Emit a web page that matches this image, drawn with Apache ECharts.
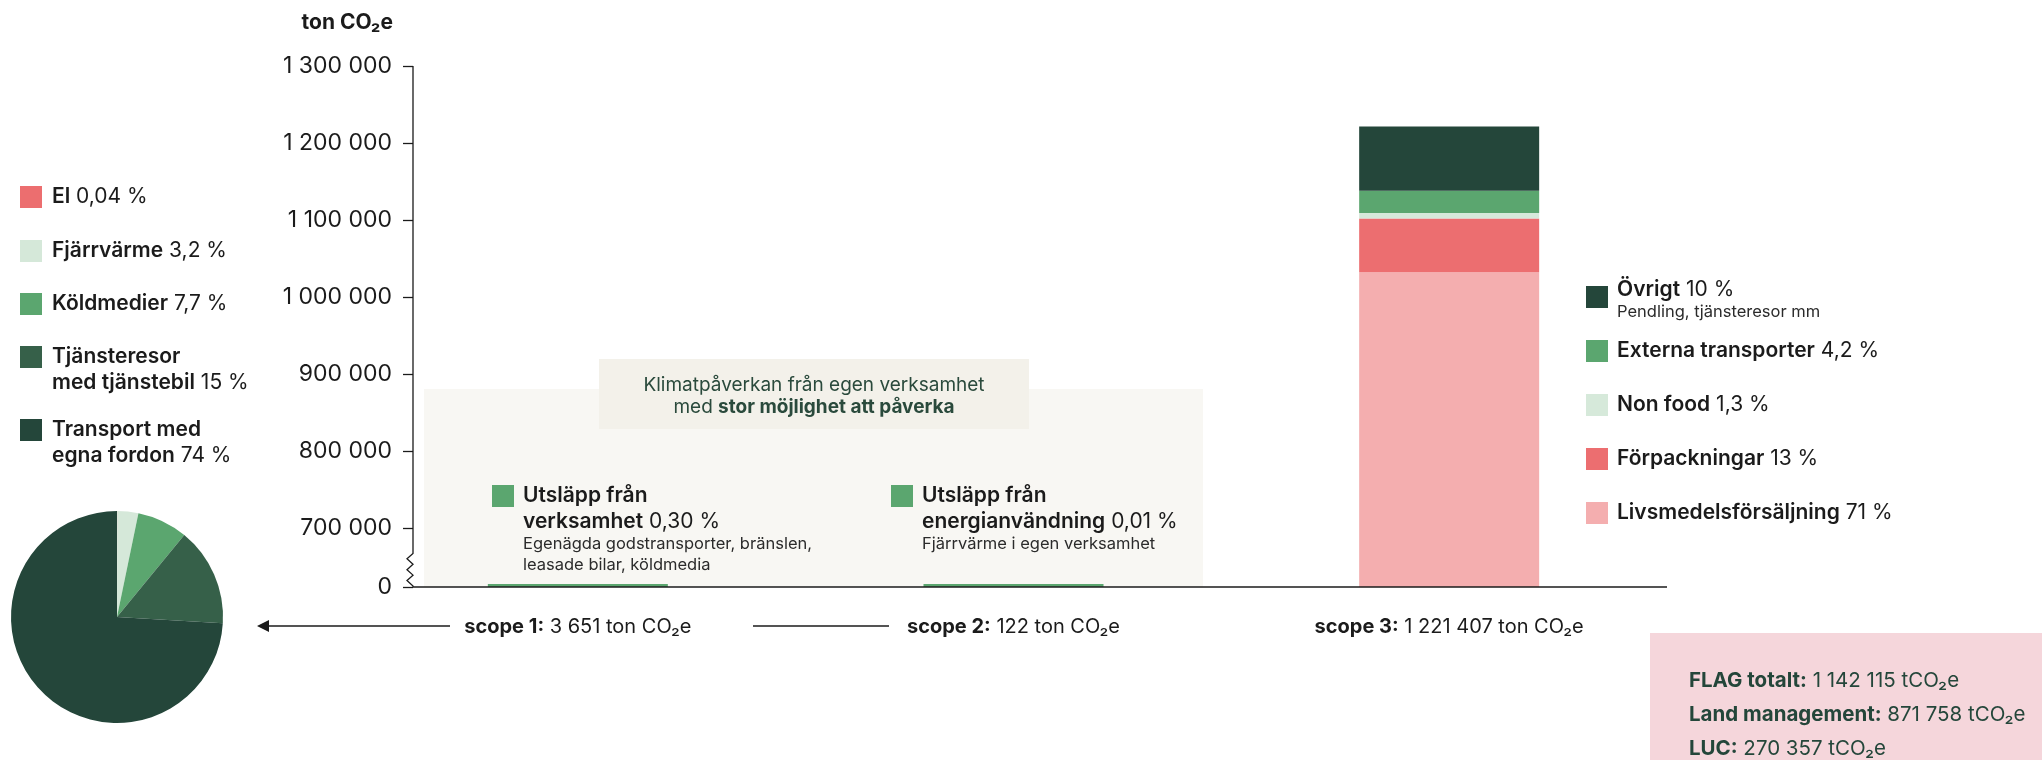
<!DOCTYPE html>
<html>
<head>
<meta charset="utf-8">
<script src="https://cdn.jsdelivr.net/npm/echarts@6/dist/echarts.min.js"></script>
<style>
  html, body { margin: 0; padding: 0; background: #ffffff; }
  #chart { width: 2042px; height: 760px; }
</style>
</head>
<body>
<div id="chart"></div>
<script>
// Categories on the x axis
const scopes = ['scope 1', 'scope 2', 'scope 3'];
// Own operations, ton CO2e (scope 1, scope 2)
const ownEmissions = [3651, 122];
// Scope 3 breakdown, stacked from the bottom up, ton CO2e
const scope3Names = ['Livsmedelsförsäljning', 'Förpackningar', 'Non food', 'Externa transporter', 'Övrigt'];
const scope3Shares = ['71 %', '13 %', '1,3 %', '4,2 %', '10 %'];
const scope3Values = [1032000, 70000, 7000, 29000, 83407];
const scope3Notes = ['', '', '', '', 'Pendling, tjänsteresor mm'];
// Scope 1 breakdown, percent
const scope1Names = ['El', 'Fjärrvärme', 'Köldmedier', 'Tjänsteresor\nmed tjänstebil', 'Transport med\negna fordon'];
const scope1Shares = [0.04, 3.2, 7.7, 15, 74];
// Ticks shown on the value axis
const yTickValues = [0, 700000, 800000, 900000, 1000000, 1100000, 1200000, 1300000];
// Collapsed part of the value axis
const axisBreak = { start: 5000, end: 667000, gap: 38600 };
// FLAG summary
const flagLabels = ['FLAG totalt:', 'Land management:', 'LUC:'];
const flagValues = [1142115, 871758, 270357];
// Own-operation notes
const ownTitles = [['Utsläpp från', 'verksamhet'], ['Utsläpp från', 'energianvändning']];
const ownNotes = [['Egenägda godstransporter, bränslen,', 'leasade bilar, köldmedia'], ['Fjärrvärme i egen verksamhet']];

// ---- styling ----
const FONT = 'Inter, "Noto Sans", "DejaVu Sans", sans-serif';
const INK = '#1b1b1b';
const TEXT_GREEN = '#2a4a3c';
const FLAG_INK = '#24463a';
const OWN_GREEN = '#5ba66f';
const scope3Colors = ['#f4aeaf', '#ec6e70', '#d6e9da', '#5ba66f', '#24463a'];
const scope1Colors = ['#ec6e6f', '#d5e8d9', '#5ba66f', '#366049', '#24463a'];
// plot area; the value axis sits a little inside its left edge
const GRID = { left: 360, right: 375, top: 66, bottom: 173 };
const AXIS_X = 413;
const BASE_END = 1667;
const BAR_W = 180;

const fmt = n => String(n).replace(/\B(?=(\d{3})+(?!\d))/g, ' ');
const pct = v => String(v).replace('.', ',') + ' %';
const scope3Total = scope3Values.reduce((a, b) => a + b, 0);
const totals = [ownEmissions[0], ownEmissions[1], scope3Total];
const grandTotal = totals.reduce((a, b) => a + b, 0);
const ownShares = ownEmissions.map(v => (v / grandTotal * 100).toFixed(2).replace('.', ',') + ' %');

// rich text with a bold lead and a regular tail
const richPair = (size, color, weight, lh) => ({
  fontSize: size, fontFamily: FONT, fill: color, lineHeight: lh,
  rich: {
    n: { fontSize: size, fontWeight: weight, fontFamily: FONT, fill: color, lineHeight: lh },
    v: { fontSize: size, fontFamily: FONT, fill: color, lineHeight: lh }
  }
});

const chart = echarts.init(document.getElementById('chart'));

const series = [{
  type: 'bar', name: 'Egen verksamhet', stack: 'total', barWidth: BAR_W, barMinHeight: 3,
  data: [ownEmissions[0], ownEmissions[1], '-'],
  itemStyle: { color: OWN_GREEN }, z: 3
}];
scope3Names.forEach((n, i) => series.push({
  type: 'bar', name: n, stack: 'total', barWidth: BAR_W,
  data: ['-', '-', scope3Values[i]],
  itemStyle: { color: scope3Colors[i] }, z: 3
}));
series.push({
  type: 'pie', name: 'scope 1', center: [117, 617], radius: 106, startAngle: 90, clockwise: true,
  label: { show: false }, labelLine: { show: false }, emphasis: { disabled: true },
  itemStyle: { borderWidth: 0 },
  data: scope1Names.map((n, i) => ({ name: n, value: scope1Shares[i], itemStyle: { color: scope1Colors[i] } }))
});

chart.setOption({
  animation: false,
  textStyle: { fontFamily: FONT },
  grid: GRID,
  xAxis: {
    type: 'category', data: scopes,
    axisLine: { show: false },
    axisTick: { show: false },
    axisLabel: {
      margin: 30, fontSize: 20, color: INK, fontFamily: FONT,
      formatter: (val, idx) => `{b|${val}:} ${fmt(totals[idx])} ton CO₂e`,
      rich: { b: { fontWeight: 700, fontSize: 20, color: INK, fontFamily: FONT } }
    }
  },
  yAxis: {
    type: 'value', min: 0, max: 1300000, interval: 100000,
    offset: GRID.left - AXIS_X,
    breaks: [axisBreak],
    breakArea: { show: false },
    splitLine: { show: false },
    axisLine: { show: false },
    axisTick: { show: true, length: 10, customValues: yTickValues, lineStyle: { color: INK, width: 1.3 } },
    axisLabel: {
      margin: 21, fontSize: 23, color: INK, fontFamily: FONT, customValues: yTickValues,
      formatter: v => yTickValues.includes(v) ? fmt(v) : ''
    }
  },
  series
});

// ---- annotations placed after the axes are laid out ----
const yPx = v => chart.convertToPixel({ yAxisIndex: 0 }, v);
const yZero = yPx(0);
const yTop = yPx(1300000);
const yBreakEnd = yPx(axisBreak.end);

const g = [];
const txt = (x, y, text, style, z) => g.push({
  type: 'text', x, y, z: z || 5,
  style: Object.assign({ text, fontFamily: FONT, fill: INK, fontSize: 20, align: 'left', verticalAlign: 'middle' }, style)
});

// value axis line with a zigzag marking the cut, and the base line
const axisPts = [[AXIS_X, yTop], [AXIS_X, yBreakEnd]];
const teeth = 6, zTop = yBreakEnd, zBot = yZero - 1;
for (let k = 1; k <= teeth; k++) {
  axisPts.push([k % 2 ? AXIS_X - 6 : AXIS_X, zTop + (zBot - zTop) * k / teeth]);
}
axisPts.push([AXIS_X, yZero]);
g.push({ type: 'polyline', z: 6, shape: { points: axisPts }, style: { stroke: INK, lineWidth: 1.3, fill: null } });
g.push({ type: 'line', z: 6, shape: { x1: AXIS_X, y1: yZero, x2: BASE_END, y2: yZero }, style: { stroke: INK, lineWidth: 1.3 } });

// axis unit
txt(393, 23, 'ton CO₂e', { fontWeight: 700, align: 'right', fontSize: 21 });

// own-operations panel
g.push({ type: 'rect', z: -1, shape: { x: 424, y: 389, width: 779, height: yZero - 389 }, style: { fill: '#f8f7f3' } });
g.push({ type: 'rect', z: 0, shape: { x: 599, y: 359, width: 430, height: 70 }, style: { fill: '#f3f1ea' } });
txt(814, 396, '{v|Klimatpåverkan från egen verksamhet}\n{v|med} {n|stor möjlighet att påverka}',
  Object.assign({ align: 'center' }, richPair(19, TEXT_GREEN, 700, 22)));

const ownX = [492, 891];
ownX.forEach((x, i) => {
  g.push({ type: 'rect', z: 5, shape: { x, y: 485, width: 22, height: 22 }, style: { fill: OWN_GREEN } });
  txt(x + 31, 483, `{n|${ownTitles[i][0]}}\n{n|${ownTitles[i][1]}} {v|${ownShares[i]}}`,
    Object.assign({ verticalAlign: 'top' }, richPair(21, INK, 600, 26)));
  txt(x + 31, 534, ownNotes[i].join('\n'), { fontSize: 16.5, lineHeight: 21, verticalAlign: 'top', fill: '#2b2b2b' });
});

// scope 1 pie legend
const pieLegendY = [197, 251, 304, 357, 430];
scope1Names.forEach((n, i) => {
  const yc = pieLegendY[i];
  g.push({ type: 'rect', z: 5, shape: { x: 20, y: yc - 11, width: 22, height: 22 }, style: { fill: scope1Colors[i] } });
  const lines = n.split('\n').map(l => `{n|${l}}`);
  lines[lines.length - 1] += ` {v|${pct(scope1Shares[i])}}`;
  txt(52, yc - 13, lines.join('\n'), Object.assign({ verticalAlign: 'top' }, richPair(21, INK, 600, 26)));
});

// scope 3 legend, top item first
scope3Names.forEach((n, i) => {
  const yc = i === scope3Names.length - 1 ? 297 : 513 - i * 54;
  g.push({ type: 'rect', z: 5, shape: { x: 1586, y: yc - 11, width: 22, height: 22 }, style: { fill: scope3Colors[i] } });
  txt(1617, scope3Notes[i] ? yc - 7 : yc, `{n|${n}} {v|${scope3Shares[i]}}`, richPair(21, INK, 600, 26));
  if (scope3Notes[i]) txt(1617, yc + 15, scope3Notes[i], { fontSize: 16.5, fill: '#2b2b2b' });
});

// arrow towards the pie and connector between scope labels
const yArrow = 626;
g.push({ type: 'line', z: 5, shape: { x1: 266, y1: yArrow, x2: 450, y2: yArrow }, style: { stroke: INK, lineWidth: 1.5 } });
g.push({ type: 'polygon', z: 5, shape: { points: [[257, yArrow], [269, yArrow - 6], [269, yArrow + 6]] }, style: { fill: INK } });
g.push({ type: 'line', z: 5, shape: { x1: 753, y1: yArrow, x2: 889, y2: yArrow }, style: { stroke: INK, lineWidth: 1.5 } });

// FLAG box
g.push({ type: 'rect', z: 0, shape: { x: 1650, y: 633, width: 392, height: 127 }, style: { fill: '#f5d6db' } });
flagLabels.forEach((l, i) => {
  txt(1689, 681 + i * 34, `{n|${l}} {v|${fmt(flagValues[i])} tCO₂e}`, richPair(20.5, FLAG_INK, 700, 26));
});

chart.setOption({ graphic: g });
</script>
</body>
</html>
